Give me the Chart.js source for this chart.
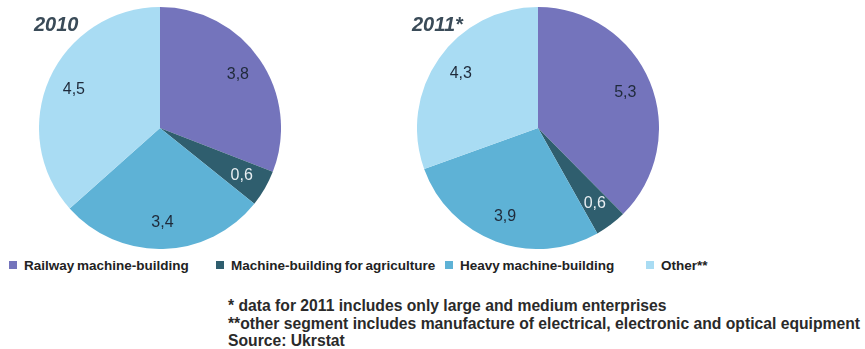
<!DOCTYPE html>
<html>
<head>
<meta charset="utf-8">
<script src="https://cdn.jsdelivr.net/npm/chart.js@4"></script>
<style>
  html, body { margin: 0; padding: 0; background: #fff; }
  body { width: 865px; height: 349px; position: relative; overflow: hidden;
         font-family: "Liberation Sans", Arial, sans-serif; color: #222; }
  .pie { position: absolute; top: 7px; }
  .year { position: absolute; top: 13px; font-size: 20px; font-weight: bold;
          font-style: italic; color: #3a4b58; }
  #legend { position: absolute; top: 257px; left: 0; height: 18px; }
  .item { position: absolute; top: 0; font-size: 13.5px; font-weight: bold; word-spacing: -1px;
          line-height: 18px; white-space: nowrap; }
  .item i { display: inline-block; width: 8px; height: 8px; margin-right: 7px; vertical-align: 1px; }
  #notes { position: absolute; left: 228px; top: 297px; font-size: 15.7px; font-weight: bold;
           line-height: 17.5px; white-space: nowrap; color: #2a2a2a; }
</style>
</head>
<body>
<canvas id="pie2010" class="pie" width="242" height="242" style="left:39px"></canvas>
<canvas id="pie2011" class="pie" width="242" height="242" style="left:417px"></canvas>
<div class="year" style="left:34px">2010</div>
<div class="year" style="left:412px">2011*</div>
<div id="legend"></div>
<div id="notes">
  * data for 2011 includes only large and medium enterprises<br>
  **other segment includes manufacture of electrical, electronic and optical equipment<br>
  Source: Ukrstat
</div>
<script>
const segments = ["Railway machine-building", "Machine-building for agriculture", "Heavy machine-building", "Other**"];
const values2010 = [3.8, 0.6, 3.4, 4.5];
const values2011 = [5.3, 0.6, 3.9, 4.3];
const colors = ["#7474bc", "#2f5e6e", "#5eb2d6", "#a9dcf3"];
const labelColors = ["#1f2a3a", "#e8eef2", "#1f2a3a", "#1f2a3a"];
const legendX = [9, 216, 445, 646];

// Writes each slice value (with a comma decimal) inside its slice
const sliceValues = {
  id: "sliceValues",
  afterDatasetsDraw(chart) {
    const ctx = chart.ctx;
    const meta = chart.getDatasetMeta(0);
    const data = chart.data.datasets[0].data;
    ctx.save();
    ctx.font = "16px 'Liberation Sans', Arial, sans-serif";
    ctx.textAlign = "center";
    ctx.textBaseline = "middle";
    meta.data.forEach((arc, i) => {
      const mid = (arc.startAngle + arc.endAngle) / 2;
      const r = arc.outerRadius * 0.78;
      ctx.fillStyle = labelColors[i];
      ctx.fillText(data[i].toFixed(1).replace(".", ","), arc.x + Math.cos(mid) * r, arc.y + Math.sin(mid) * r);
    });
    ctx.restore();
  }
};

const makePie = (id, values) => {
  new Chart(document.getElementById(id), {
    type: "pie",
    data: {
      labels: segments,
      datasets: [{ data: values, backgroundColor: colors, borderWidth: 0 }]
    },
    options: {
      responsive: false,
      animation: false,
      layout: { padding: 0 },
      plugins: { legend: { display: false }, tooltip: { enabled: false } }
    },
    plugins: [sliceValues]
  });
};

makePie("pie2010", values2010);
makePie("pie2011", values2011);

// Legend row under both pies
const legend = document.getElementById("legend");
segments.forEach((name, i) => {
  const item = document.createElement("div");
  item.className = "item";
  item.style.left = legendX[i] + "px";
  item.innerHTML = '<i style="background:' + colors[i] + '"></i>' + name;
  legend.appendChild(item);
});
</script>
</body>
</html>
